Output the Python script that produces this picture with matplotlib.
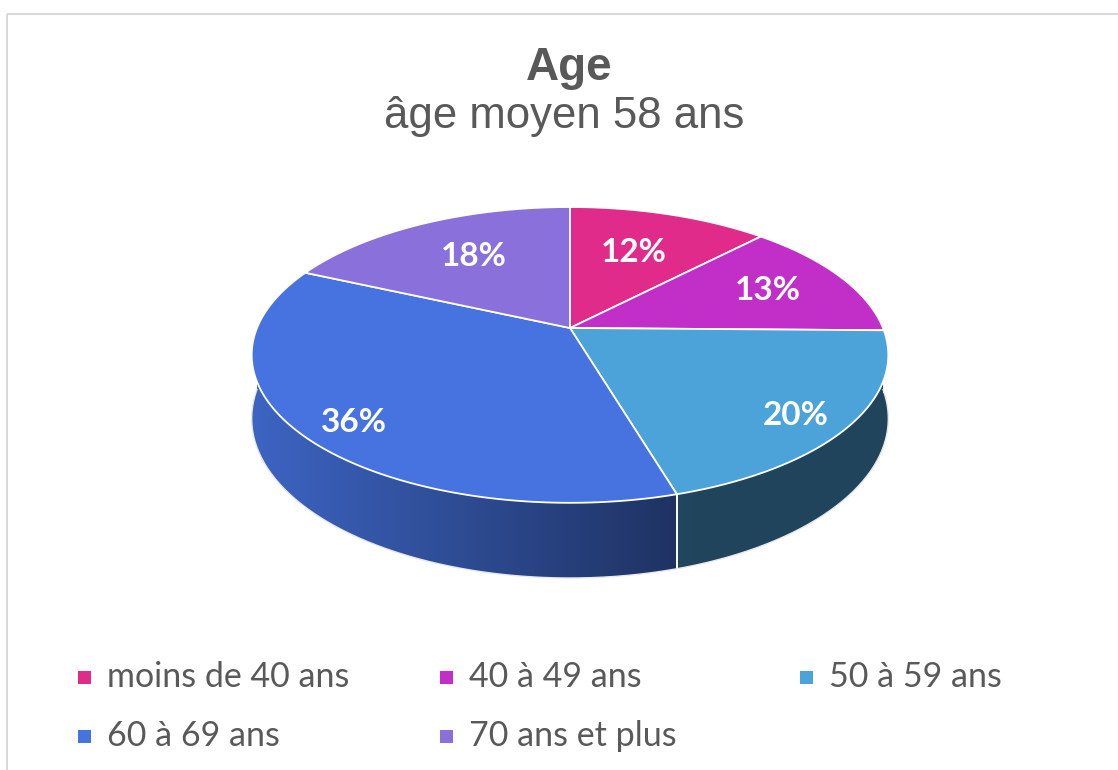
import numpy as np
import matplotlib
matplotlib.use("Agg")
import matplotlib.pyplot as plt
from matplotlib.patches import Polygon, Rectangle

# data
categories = ["moins de 40 ans", "40 à 49 ans", "50 à 59 ans", "60 à 69 ans", "70 ans et plus"]
values = [12, 13, 20, 36, 18]
labels = ["12%", "13%", "20%", "36%", "18%"]
colors = ["#E02B8A", "#C22EC8", "#4BA3D9", "#4673E0", "#8970DB"]
title = "Age"
subtitle = "âge moyen 58 ans"

# pie geometry (pixels), simple perspective projection of a flat cylinder
CX, CY = 570, 328
R, RY = 313, 143
H = 61.5
P = 0.182


def project(t_deg, r=1.0, z=0.0):
    t = np.radians(t_deg)
    X = r * np.sin(t)
    Y = r * np.cos(t)
    s = 1.0 / (1.0 + P * Y)
    return CX + R * X * s, CY - RY * Y * s + H * z * s


def side_factor(x):
    return np.clip(0.87 - (x - 253) / 424 * 0.43, 0.42, 0.87)


fig = plt.figure(figsize=(11.18, 7.70), dpi=100)
ax = fig.add_axes([0, 0, 1, 1])
ax.set_xlim(0, 1118)
ax.set_ylim(770, 0)
ax.axis("off")

# chart border
ax.add_patch(Rectangle((7, 14), 1200, 800, fill=False, edgecolor="#D9D9D9", lw=1.5))

total = float(sum(values))
bounds = np.concatenate([[0], np.cumsum(values)]) / total * 360

# sides (front half only), shaded with a horizontal gradient
for i, c in enumerate(colors):
    a0, a1 = max(bounds[i], 90), min(bounds[i + 1], 270)
    if a1 <= a0:
        continue
    ts = np.linspace(a0, a1, 200)
    tx, ty = project(ts)
    bx, by = project(ts[::-1], z=1)
    pts = np.column_stack([np.r_[tx, bx], np.r_[ty, by]])
    poly = Polygon(pts, closed=True, facecolor="none", edgecolor="none")
    ax.add_patch(poly)
    x0, x1 = pts[:, 0].min() - 2, pts[:, 0].max() + 2
    y0, y1 = pts[:, 1].min() - 2, pts[:, 1].max() + 2
    xs = np.linspace(x0, x1, 400)
    base = np.array(matplotlib.colors.to_rgb(c))
    grad = side_factor(xs)[None, :, None] * base[None, None, :]
    im = ax.imshow(np.repeat(grad, 2, axis=0), extent=(x0, x1, y1, y0),
                   aspect="auto", interpolation="bilinear", zorder=2)
    im.set_clip_path(poly)
    # white divider on the side where slices meet
    for a in (bounds[i], bounds[i + 1]):
        if 90 < a < 270:
            xa, ya = project(a)
            xb, yb = project(a, z=1)
            ax.plot([xa, xb], [ya, yb], color="white", lw=1.3, zorder=3)

ax.set_xlim(0, 1118)
ax.set_ylim(770, 0)

# bottom outline
tb = np.linspace(90, 270, 200)
bx, by = project(tb, z=1)
ax.plot(bx, by, color="#E8E8E8", lw=1.0, zorder=3)

# top face
for i, c in enumerate(colors):
    ts = np.linspace(bounds[i], bounds[i + 1], 120)
    xs, ys = project(ts)
    pts = np.column_stack([np.r_[CX, xs], np.r_[CY, ys]])
    ax.add_patch(Polygon(pts, closed=True, facecolor=c, edgecolor="white", lw=1.3, zorder=4))

# percentage labels
for i, lab in enumerate(labels):
    mid = (bounds[i] + bounds[i + 1]) / 2
    m = np.radians(mid)
    f = 0.70 - 0.12 * np.cos(m) + 0.08 * np.sin(m) ** 2
    lx, ly = project(mid, r=f)
    ly += 4 - 8 * np.cos(m)
    ax.text(lx, ly, lab, color="white", fontsize=24, fontweight="bold",
            family="Lato", ha="center", va="center", zorder=5)

# titles
ax.text(569, 80, title, fontsize=33, fontweight="bold", color="#595959",
        family="Liberation Sans", ha="center", va="baseline")
ax.text(564, 128, subtitle, fontsize=31.5, color="#595959",
        family="Liberation Sans", ha="center", va="baseline")

# legend (row-major, 3 columns)
col_x = [78, 440, 800]
row_y = [677, 736]
for i, (cat, c) in enumerate(zip(categories, colors)):
    x = col_x[i % 3]
    y = row_y[i // 3]
    ax.add_patch(Rectangle((x, y - 6.5), 13, 13, facecolor=c, edgecolor="none"))
    ax.text(x + 29, y, cat, fontsize=24.5, color="#595959", family="Lato",
            ha="left", va="center")

fig.savefig("out.png", dpi=100)
